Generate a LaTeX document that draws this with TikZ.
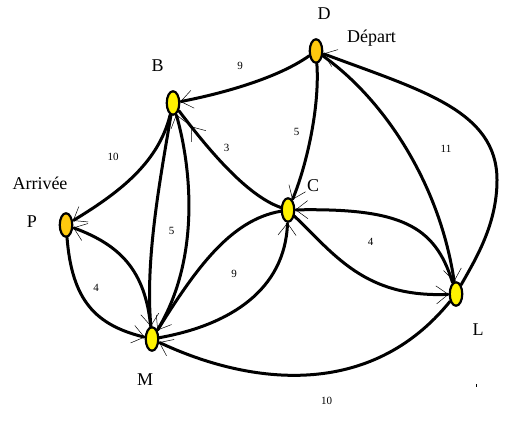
\documentclass[tikz,border=0pt]{standalone}
\usepackage{fontspec}
\setmainfont{Liberation Serif}
\usetikzlibrary{shapes.geometric,arrows.meta,decorations.markings,backgrounds}
\definecolor{ylw}{RGB}{255,242,0}
\definecolor{org}{RGB}{255,201,14}
\tikzset{
  pbarb/.tip={Straight Barb[length=12pt,width=18pt,line width=0.5pt]},
  vtx/.style={ellipse,draw,line width=2.2pt,minimum width=12.5pt,minimum height=23.5pt,inner sep=0pt},
  edge/.style={line width=3pt,line cap=round},
  lbl/.style={font=\fontsize{18}{18}\selectfont,inner sep=0pt,anchor=base},
  wt/.style={font=\fontsize{11}{11}\selectfont,inner sep=0pt}
}
\begin{document}
\begin{tikzpicture}[x=1pt,y=-1pt]
\useasboundingbox (0,0) rectangle (526,427);
% vertices
\node[vtx,fill=org] (D) at (316,51) {};
\node[vtx,fill=ylw] (B) at (173,103) {};
\node[vtx,fill=org] (P) at (66,225) {};
\node[vtx,fill=ylw] (C) at (288,210) {};
\node[vtx,fill=ylw] (L) at (456,294) {};
\node[vtx,fill=ylw] (M) at (152,339) {};
% labels
\node[lbl] (tD) at (324,20) {D};
\node[lbl] (tDep) at (371.5,43) {Départ};
\node[lbl] (tB) at (157.5,72) {B};
\node[lbl] (tArr) at (40,190) {Arrivée};
\node[lbl] (tP) at (32,227) {P};
\node[lbl] (tC) at (313,192) {C};
\node[lbl] (tL) at (478,335) {L};
\node[lbl] (tM) at (145,385) {M};
% weights
\node[wt] (wDB) at (240,66) {9};
\node[wt] (wBC) at (226.5,147.5) {3};
\node[wt] (wDC) at (296.5,131.5) {5};
\node[wt] (wBP) at (113,157) {10};
\node[wt] (wDL) at (446,149) {11};
\node[wt] (wBM) at (171.5,231) {5};
\node[wt] (wCL) at (370.5,241.5) {4};
\node[wt] (wMC) at (234,274) {9};
\node[wt] (wPM) at (96,287.5) {4};
\node[wt] (wML) at (326.5,400.5) {10};
% stray dot
\fill (475.7,384) rectangle (476.9,386.6);
% edges
\begin{scope}[on background layer]
\draw[edge,-pbarb] (D) .. controls (275,80) and (215,95) .. (B);
\draw[edge,-pbarb] (D) .. controls (320,110) and (305,170) .. (C);
\draw[edge,-pbarb] (D) .. controls (385,100) and (440,185) .. (L);
\draw[edge,-pbarb] (L) .. controls (475,260) and (497,225) .. (497,180) .. controls (497,110) and (420,90) .. (D);
\draw[edge,postaction={decorate},decoration={markings,mark=at position 0.86 with {\arrow{pbarb}}}] (C) .. controls (245,195) and (205,145) .. (B);
\draw[edge,-pbarb] (B) .. controls (158,165) and (115,195) .. (P);
\draw[edge,-pbarb] (B) .. controls (160,180) and (145,260) .. (M);
\draw[edge,-pbarb] (M) .. controls (200,260) and (192,170) .. (B);
\draw[edge,-pbarb] (P) .. controls (72,300) and (95,325) .. (M);
\draw[edge,-pbarb] (M) .. controls (145,270) and (120,245) .. (P);
\draw[edge,-pbarb] (C) .. controls (230,220) and (195,270) .. (M);
\draw[edge,-pbarb] (M) .. controls (230,325) and (285,290) .. (C);
\draw[edge,-pbarb] (L) .. controls (435,225) and (400,208) .. (C);
\draw[edge,-pbarb] (C) .. controls (335,255) and (365,298) .. (L);
\draw[edge,-pbarb] (L) .. controls (370,400) and (250,385) .. (M);
\end{scope}
\end{tikzpicture}
\end{document}
